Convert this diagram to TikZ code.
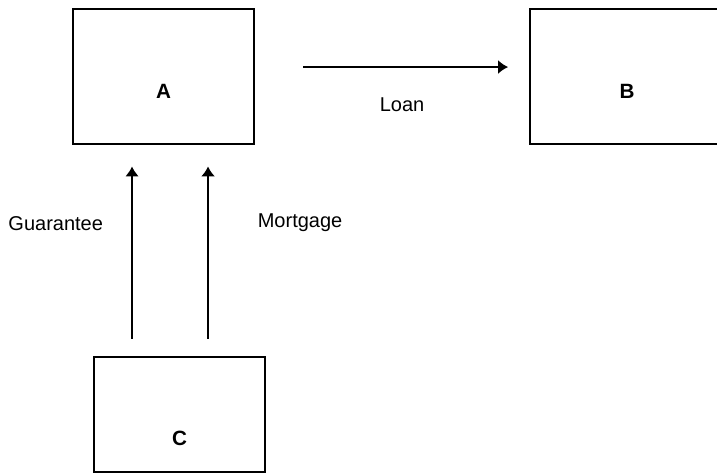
\documentclass[tikz,border=0pt]{standalone}
\usepackage{fontspec}
\setmainfont{Liberation Sans}
\usepackage{tikz}
\usetikzlibrary{arrows.meta}
\tikzstyle{party} = [rectangle, draw, line width=2.2pt, inner sep=0pt]
\tikzstyle{letter} = [font=\fontsize{15.5}{18}\selectfont\bfseries]
\tikzstyle{tag} = [inner sep=0pt, font=\fontsize{15}{18}\selectfont]
\tikzstyle{line} = [draw, line width=1.2pt, -{Latex[length=7.5pt, width=10.5pt]}]

\begin{document}
\begin{tikzpicture}[x=0.75pt, y=-0.75pt]
    \useasboundingbox (0,0) rectangle (717,474);
    \clip (0,0) rectangle (717,474);
    % Place nodes
    \node [party, minimum width=135.75pt, minimum height=101.25pt,
        label={[letter, yshift=-11pt]center:A}] (a) at (163.5,76.5) {};
    \node [party, line width=1.4pt, minimum width=145.5pt, minimum height=101.25pt,
        label={[letter, yshift=-11pt]center:B}] (b) at (627,76.5) {};
    \node [party, minimum width=128.25pt, minimum height=86.25pt,
        label={[letter, yshift=-17.6pt]center:C}] (c) at (179.5,414.5) {};
    % Draw edges
    \path [line, shorten <=36pt, shorten >=15.75pt] ([yshift=7.1pt]a.east) --
        node [tag, pos=0.536, below=22.5pt] {Loan} ([yshift=7.1pt]b.west);
    \path [line, line width=1.6pt, shorten <=12.75pt, shorten >=15.75pt]
        ([xshift=-35.6pt]c.north) --
        node [tag, pos=0.63, left=21pt] {Guarantee} ([xshift=-35.6pt]c.north |- a.south);
    \path [line, shorten <=12.75pt, shorten >=15.75pt]
        ([xshift=21.4pt]c.north) --
        node [tag, pos=0.63, right=36.75pt] {Mortgage} ([xshift=21.4pt]c.north |- a.south);
\end{tikzpicture}
\end{document}
